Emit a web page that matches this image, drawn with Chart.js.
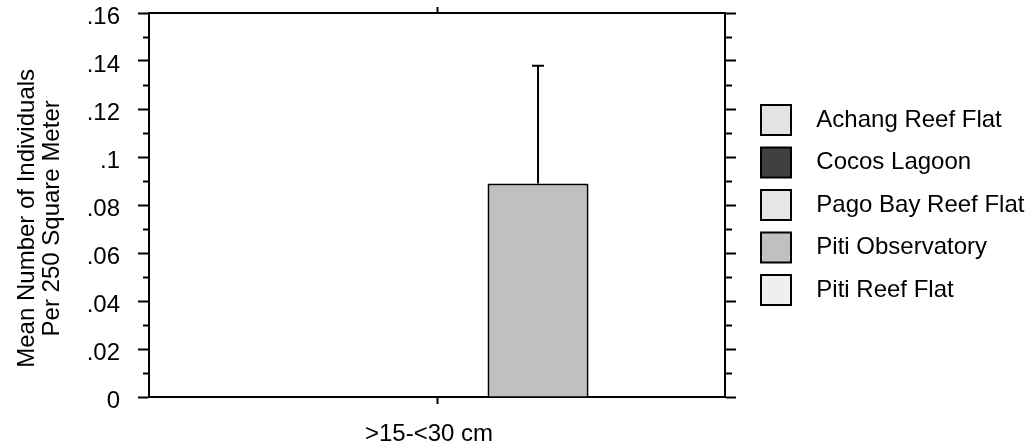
<!DOCTYPE html>
<html>
<head>
<meta charset="utf-8">
<script src="https://cdn.jsdelivr.net/npm/chart.js@4.4.1/dist/chart.umd.min.js"></script>
<style>
  html, body { margin: 0; padding: 0; background: #fff; }
  #wrap { width: 1031px; height: 444px; position: relative; }
</style>
</head>
<body>
<div id="wrap"><canvas id="chart"></canvas></div>
<script>
// size class on the x axis
const categories = [">15-<30 cm"];

// one series per site
const seriesNames = ["Achang Reef Flat", "Cocos Lagoon", "Pago Bay Reef Flat", "Piti Observatory", "Piti Reef Flat"];
const seriesColors = ["#e4e4e4", "#404040", "#e6e6e6", "#c0c0c0", "#efefef"];
const achang = [0];
const cocos = [0];
const pagoBay = [0];
const pitiObs = [0.089];
const pitiReef = [0];
const seriesValues = [achang, cocos, pagoBay, pitiObs, pitiReef];

// upper error (added to the mean)
const errAchang = [0];
const errCocos = [0];
const errPagoBay = [0];
const errPitiObs = [0.049];
const errPitiReef = [0];
const seriesErrors = [errAchang, errCocos, errPagoBay, errPitiObs, errPitiReef];

// trailing spaces nudge the centred title down a little, like the original
const yTitle = ["Mean Number of Individuals    ", "Per 250 Square Meter    "];
const yMin = 0, yMax = 0.16, yStep = 0.01;

const FONT = "'Liberation Sans', Arial, Helvetica, sans-serif";
Chart.defaults.font.family = FONT;
Chart.defaults.font.size = 24;
Chart.defaults.color = "#000";

function isMinor(ctx) {
  return Math.round(ctx.tick.value / yStep) % 2 !== 0;
}

function yLabel(v) {
  const k = Math.round(v * 100);
  if (k % 2) return "";
  if (k === 0) return "0";
  return String(k / 100).replace(/^0/, "");
}

// upward error bars with a small cap
const errorBars = {
  id: "errorBars",
  afterDatasetsDraw(chart) {
    const ctx = chart.ctx;
    const y = chart.scales.y;
    ctx.save();
    ctx.strokeStyle = "#000";
    ctx.lineWidth = 2;
    chart.data.datasets.forEach((ds, i) => {
      const meta = chart.getDatasetMeta(i);
      meta.data.forEach((bar, j) => {
        const e = ds.errors[j];
        if (!e) return;
        const top = y.getPixelForValue(ds.data[j] + e);
        ctx.beginPath();
        ctx.moveTo(bar.x, bar.y);
        ctx.lineTo(bar.x, top);
        ctx.moveTo(bar.x - 6, top);
        ctx.lineTo(bar.x + 6, top);
        ctx.stroke();
      });
    });
    ctx.restore();
  }
};

const datasets = seriesNames.map((name, i) => ({
  label: name,
  data: seriesValues[i],
  errors: seriesErrors[i],
  backgroundColor: seriesColors[i],
  borderColor: "#000",
  borderWidth: 2,
  borderSkipped: "start",
  categoryPercentage: 0.877,
  barPercentage: 1.0
}));

const tickGrid = (len, dash) => ({
  drawOnChartArea: false,
  drawTicks: true,
  tickLength: len,
  tickWidth: 2,
  tickColor: "#000",
  tickBorderDash: dash
});

new Chart(document.getElementById("chart"), {
  type: "bar",
  data: { labels: categories, datasets },
  options: {
    responsive: true,
    maintainAspectRatio: false,
    animation: false,
    layout: { padding: { left: 0, right: 0, top: 7, bottom: 0 } },
    plugins: {
      tooltip: { enabled: false },
      legend: {
        position: "right",
        fullSize: false,
        maxWidth: 282.5,
        labels: {
          boxWidth: 30,
          boxHeight: 30,
          padding: 12.5,
          color: "#000",
          font: { size: 24 },
          generateLabels(chart) {
            const items = Chart.defaults.plugins.legend.labels.generateLabels(chart);
            items.forEach(it => { it.text = "  " + it.text; it.lineWidth = 2; });
            return items;
          }
        }
      }
    },
    scales: {
      x: {
        type: "category",
        position: "bottom",
        offset: true,
        grid: Object.assign(tickGrid(7), { offset: false }),
        border: { color: "#000", width: 2 },
        ticks: { padding: 16, labelOffset: -8, maxRotation: 0, font: { size: 24 } },
        afterFit(s) { s.height = 47; }
      },
      xTop: {
        type: "category",
        position: "top",
        offset: true,
        grid: Object.assign(tickGrid(6), { offset: false }),
        border: { color: "#000", width: 2 },
        ticks: { display: false },
        afterFit(s) { s.height = 6; }
      },
      y: {
        position: "left",
        min: yMin,
        max: yMax,
        grid: tickGrid(11, ctx => isMinor(ctx) ? [0, 5, 100] : []),
        border: { color: "#000", width: 2 },
        ticks: {
          stepSize: yStep,
          autoSkip: false,
          maxTicksLimit: 40,
          padding: 18,
          labelOffset: 4,
          font: { size: 24 },
          callback: yLabel
        },
        title: {
          display: true,
          text: yTitle,
          font: { size: 24, lineHeight: "25px" },
          padding: { top: 14.5, bottom: 0 }
        },
        afterFit(s) { s.width = 149; s.paddingTop = 0; s.paddingBottom = 0; }
      },
      y2: {
        position: "right",
        min: yMin,
        max: yMax,
        grid: tickGrid(11, ctx => isMinor(ctx) ? [6, 100] : []),
        border: { color: "#000", width: 2 },
        ticks: { display: false, stepSize: yStep, autoSkip: false, maxTicksLimit: 40 },
        afterFit(s) { s.width = 23.5; s.paddingTop = 0; s.paddingBottom = 0; }
      }
    }
  },
  plugins: [errorBars]
});
</script>
</body>
</html>
